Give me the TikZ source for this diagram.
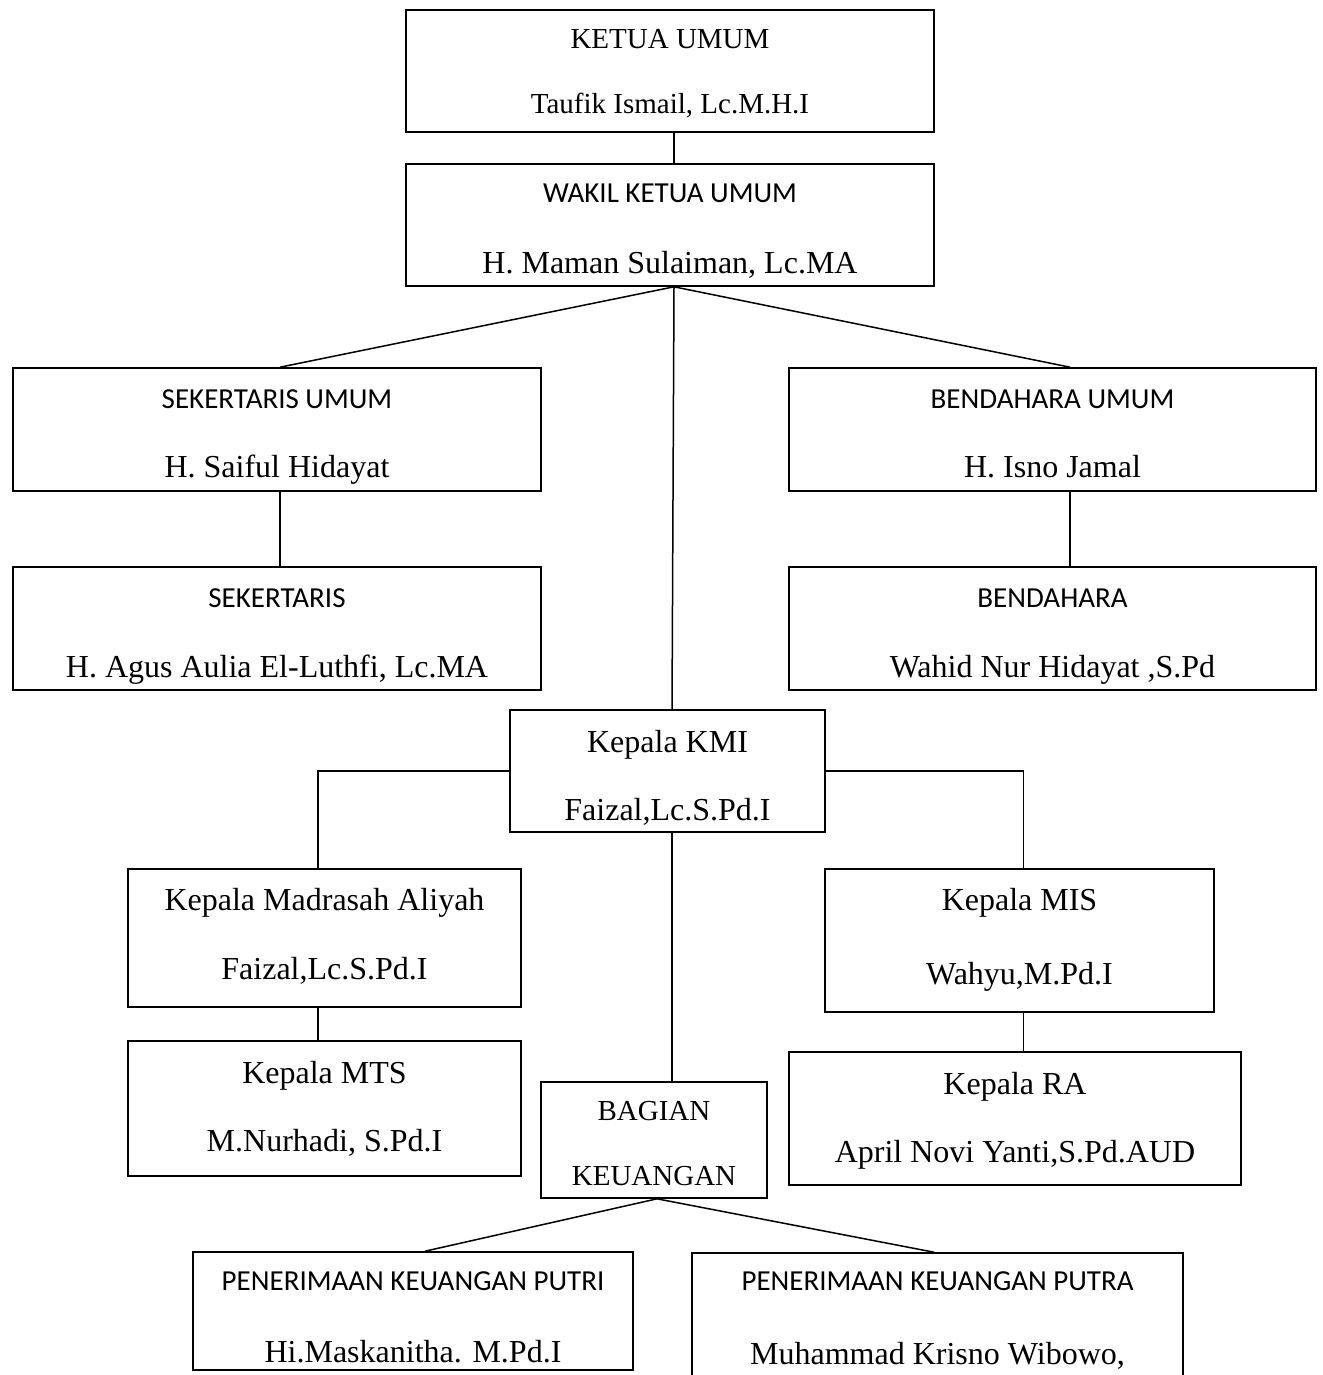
\documentclass[tikz,border=0pt]{standalone}
\usepackage{fontspec}
\setmainfont{Liberation Serif}
\newfontfamily\labelfont{Carlito}

\tikzset{
  orgbox/.style={draw, rectangle, line width=1.6pt, inner sep=0pt},
  link/.style={line width=1.5pt},
  namebig/.style={font=\fontsize{32}{38}\selectfont, anchor=base, inner sep=0pt},
  namemid/.style={font=\fontsize{29}{35}\selectfont, anchor=base, inner sep=0pt},
  titlesans/.style={font=\labelfont\fontsize{29}{35}\selectfont, anchor=base, inner sep=0pt}
}

\begin{document}
\begin{tikzpicture}[x=1pt, y=-1pt]
  \useasboundingbox (0,0) rectangle (1322,1375);
  \fill[white] (0,0) rectangle (1322,1375);
  \clip (0,0) rectangle (1322,1375);

  % ---- boxes ----
  \node[orgbox, minimum width=528pt, minimum height=122pt] (ketua)  at (670,71) {};
  \node[orgbox, minimum width=528pt, minimum height=122pt] (wakil)  at (670,225) {};
  \node[orgbox, minimum width=528pt, minimum height=123pt] (sekum)  at (277,429.5) {};
  \node[orgbox, minimum width=528pt, minimum height=123pt] (sek)    at (277,628.5) {};
  \node[orgbox, minimum width=527pt, minimum height=123pt] (bendum) at (1052.5,429.5) {};
  \node[orgbox, minimum width=527pt, minimum height=123pt] (bend)   at (1052.5,628.5) {};
  \node[orgbox, minimum width=315pt, minimum height=122pt] (kmi)    at (667.5,771) {};
  \node[orgbox, minimum width=393pt, minimum height=138pt] (ma)     at (324.5,938) {};
  \node[orgbox, minimum width=393pt, minimum height=135pt] (mts)    at (324.5,1108.5) {};
  \node[orgbox, minimum width=389pt, minimum height=143pt] (mis)    at (1019.5,940.5) {};
  \node[orgbox, minimum width=452pt, minimum height=133pt] (ra)     at (1015,1118.5) {};
  \node[orgbox, minimum width=226pt, minimum height=116pt] (bag)    at (654,1140) {};
  \node[orgbox, minimum width=440pt, minimum height=118pt] (putri)  at (413,1311) {};
  \node[orgbox, minimum width=491pt, minimum height=147pt] (putra)  at (937.5,1326.5) {};

  % ---- texts ----
  \node[namemid]   (ketua-a)  at (670,49)     {KETUA UMUM};
  \node[namemid]   (ketua-b)  at (670,114)    {Taufik Ismail, Lc.M.H.I};
  \node[titlesans] (wakil-a)  at (670,203)    {WAKIL KETUA UMUM};
  \node[namebig]   (wakil-b)  at (670,273)    {H. Maman Sulaiman, Lc.MA};
  \node[titlesans] (sekum-a)  at (277,408)    {SEKERTARIS UMUM};
  \node[namebig]   (sekum-b)  at (277,477)    {H. Saiful Hidayat};
  \node[titlesans] (sek-a)    at (277,607)    {SEKERTARIS};
  \node[namebig]   (sek-b)    at (277,677)    {H. Agus Aulia El-Luthfi, Lc.MA};
  \node[titlesans] (bendum-a) at (1052.5,408) {BENDAHARA UMUM};
  \node[namebig]   (bendum-b) at (1052.5,477) {H. Isno Jamal};
  \node[titlesans] (bend-a)   at (1052.5,607) {BENDAHARA};
  \node[namebig]   (bend-b)   at (1052.5,677) {Wahid Nur Hidayat ,S.Pd};
  \node[namebig]   (kmi-a)    at (667.5,752)  {Kepala KMI};
  \node[namebig]   (kmi-b)    at (667.5,820)  {Faizal,Lc.S.Pd.I};
  \node[namebig]   (ma-a)     at (324.5,910)  {Kepala Madrasah Aliyah};
  \node[namebig]   (ma-b)     at (324.5,979)  {Faizal,Lc.S.Pd.I};
  \node[namebig]   (mts-a)    at (324.5,1083) {Kepala MTS};
  \node[namebig]   (mts-b)    at (324.5,1151) {M.Nurhadi, S.Pd.I};
  \node[namebig]   (mis-a)    at (1019.5,910) {Kepala MIS};
  \node[namebig]   (mis-b)    at (1019.5,984) {Wahyu,M.Pd.I};
  \node[namebig]   (ra-a)     at (1015,1094)  {Kepala RA};
  \node[namebig]   (ra-b)     at (1015,1162)  {April Novi Yanti,S.Pd.AUD};
  \node[namemid]   (bag-a)    at (654,1120)   {BAGIAN};
  \node[namemid]   (bag-b)    at (654,1185)   {KEUANGAN};
  \node[titlesans] (putri-a)  at (413,1290)   {PENERIMAAN KEUANGAN PUTRI};
  \node[namebig]   (putri-b)  at (413,1362)   {Hi.Maskanitha. M.Pd.I};
  \node[titlesans] (putra-a)  at (937.5,1290) {PENERIMAAN KEUANGAN PUTRA};
  \node[namebig]   (putra-b)  at (937.5,1364) {Muhammad Krisno Wibowo,};

  % ---- connectors ----
  \draw[link] ([xshift=4pt]ketua.south) -- ([xshift=4pt]wakil.north);
  \coordinate (hub) at ([xshift=4pt]wakil.south);
  \draw[link] (hub) -- ([xshift=3pt]sekum.north);
  \draw[link] (hub) -- ([xshift=17.5pt]bendum.north);
  \draw[link] (hub) -- ([xshift=4.5pt]kmi.north);
  \draw[link] ([xshift=3pt]sekum.south) -- ([xshift=3pt]sek.north);
  \draw[link] ([xshift=17.5pt]bendum.south) -- ([xshift=17.5pt]bend.north);
  \draw[link] (kmi.west) -| ([xshift=-6.5pt]ma.north);
  \draw[link] (kmi.east) -| ([xshift=4pt]mis.north);
  \draw[link] ([xshift=-6.5pt]ma.south) -- ([xshift=-6.5pt]mts.north);
  \draw[link] ([xshift=4pt]mis.south) -- ([xshift=8.5pt]ra.north);
  \draw[link] ([xshift=4.5pt]kmi.south) -- ([xshift=18pt]bag.north);
  \draw[link] ([xshift=3pt]bag.south) -- ([xshift=12pt]putri.north);
  \draw[link] ([xshift=3pt]bag.south) -- ([xshift=-3.5pt]putra.north);
\end{tikzpicture}
\end{document}
